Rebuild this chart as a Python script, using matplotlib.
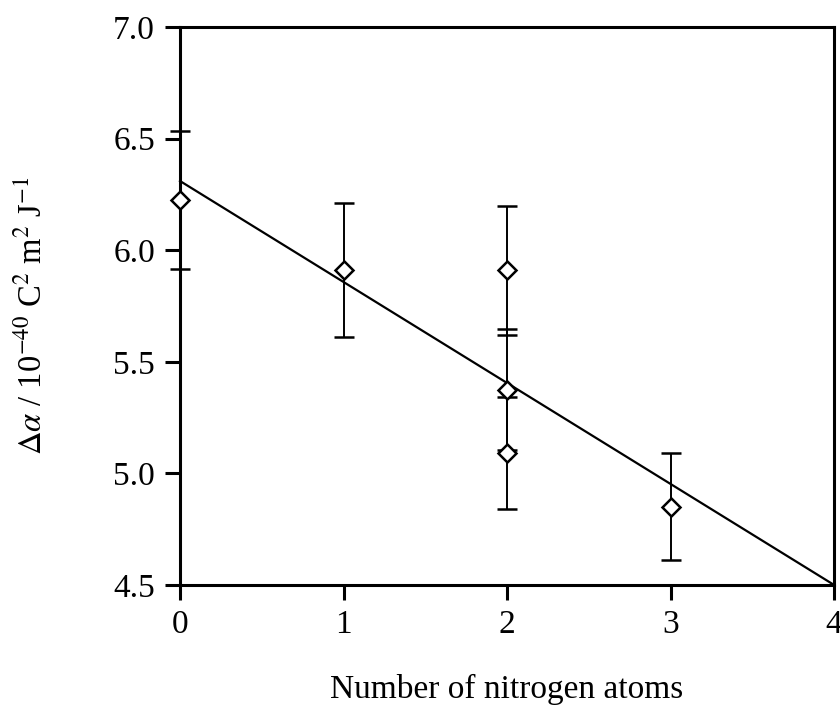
import numpy as np
import matplotlib.pyplot as plt

plt.rcParams['font.family'] = ['Liberation Serif', 'DejaVu Serif']
plt.rcParams['mathtext.fontset'] = 'stix'

# measured polarizability anisotropy vs number of N atoms
n_nitrogen = [0, 1, 2, 2, 2, 3]
delta_alpha = [6.225, 5.91, 5.91, 5.375, 5.09, 4.85]
errors = [0.31, 0.30, 0.29, 0.27, 0.25, 0.24]

# least-squares line as printed in the figure
fit_x = [0, 4]
fit_y = [6.31, 4.5]

fig = plt.figure(figsize=(8.4, 7.07), dpi=100)
ax = fig.add_axes([0.2143, 0.1726, 0.7787, 0.7892])

ax.plot(fit_x, fit_y, 'k-', linewidth=1.6, clip_on=False, zorder=2)
ax.errorbar(n_nitrogen, delta_alpha, yerr=errors, fmt='D', color='k',
            mfc='white', mec='k', mew=1.8, ms=9.5, ecolor='k',
            elinewidth=1.4, capsize=7, capthick=1.4, zorder=5, clip_on=False)

ax.set_xlim(0, 4)
ax.set_ylim(4.5, 7.0)
ax.set_xticks([0, 1, 2, 3, 4])
ax.set_yticks([4.5, 5.0, 5.5, 6.0, 6.5, 7.0])
ax.set_yticklabels(['4.5', '5.0', '5.5', '6.0', '6.5', '7.0'])
ax.tick_params(direction='out', length=11, width=2.2, labelsize=24, pad=7)
for s in ax.spines.values():
    s.set_linewidth(2.2)

ax.set_xlabel('Number of nitrogen atoms', fontsize=24, labelpad=24)
ax.set_ylabel(r'$\Delta\alpha$ / 10$^{-40}$ C$^2$ m$^2$ J$^{-1}$', fontsize=23.5, labelpad=46)
ax.yaxis.label.set_y(0.482)

plt.savefig('out.png', dpi=100)
